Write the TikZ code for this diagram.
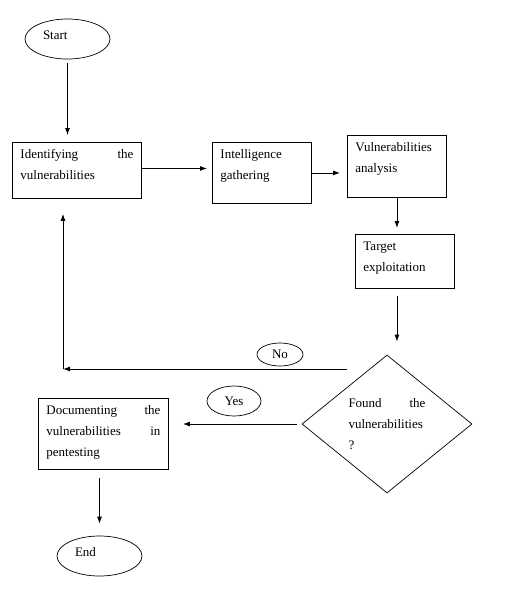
\documentclass[tikz,border=0pt]{standalone}
\usepackage{fontspec}
\setmainfont{Liberation Serif}
\usetikzlibrary{shapes.geometric,arrows.meta}

\begin{document}
\begin{tikzpicture}[
    x=1pt, y=-1pt,
    font={\fontsize{13pt}{21pt}\selectfont},
    terminal/.style={ellipse, draw, line width=0.7pt, minimum width=85pt, minimum height=40pt, inner sep=0pt, text width=49pt, align=left, text height=8pt, text depth=8pt},
    stepbox/.style={rectangle, draw, line width=0.9pt, anchor=north west, inner xsep=8pt, inner ysep=0pt, align=left, text height=16pt},
    decision/.style={diamond, draw, line width=0.7pt, minimum width=170pt, minimum height=138pt, aspect=1.23, inner sep=0pt, text width=77pt, align=left},
    answer/.style={ellipse, draw, line width=0.7pt, inner sep=0pt},
    arrow/.style={-{Latex[length=7pt,width=5pt]}, line width=0.9pt}
]
\useasboundingbox (0,0) rectangle (512,598);

\node[terminal] (start) at (67.5,39) {Start};
\node[stepbox, text width=113pt, text depth=40pt] (ident) at (12,142) {Identifying\hfill the\\vulnerabilities};
\node[stepbox, text width=83pt, text depth=45pt] (intel) at (212,142) {Intelligence\\gathering};
\node[stepbox, text width=83pt, text depth=46pt] (analysis) at (347,135) {Vulnerabilities\\analysis};
\node[stepbox, text width=83pt, text depth=38pt] (exploit) at (355,234) {Target\\exploitation};
\node[decision] (found) at (387,424) {Found\hfill the\\vulnerabilities\\?};
\node[stepbox, text width=114pt, text depth=55pt] (document) at (38,398) {Documenting\hfill the\\vulnerabilities\hfill in\\pentesting};
\node[terminal] (end) at (99.5,556) {End};
\node[answer, minimum width=46pt, minimum height=23pt] (no) at (280,354.5) {No};
\node[answer, minimum width=54pt, minimum height=30pt] (yes) at (234,401) {Yes};

% loop back when nothing found
\coordinate (nostart) at (347,369);
\coordinate (loop) at (63,369);

\draw[arrow, shorten <=4pt, shorten >=7pt] (start.south) -- (start.south |- ident.north);
\draw[arrow, shorten >=5pt] ([yshift=2pt]ident.east) -- ([yshift=2pt]ident.east -| intel.west);
\draw[arrow, shorten >=7pt] (intel.east) -- (intel.east -| analysis.west);
\draw[arrow, shorten >=6pt] (analysis.south) -- (analysis.south |- exploit.north);
\draw[arrow, shorten <=7pt, shorten >=13pt] (analysis.south |- exploit.south) -- (analysis.south |- found.north);
\draw[arrow] (nostart) -- (loop);
\draw[arrow, shorten >=15pt] (loop) -- (loop |- ident.south);
\draw[arrow, shorten <=5pt, shorten >=14pt] (found.west) -- (found.west -| document.east);
\draw[arrow, shorten <=8pt, shorten >=12pt] (end.north |- document.south) -- (end.north);
\end{tikzpicture}
\end{document}
